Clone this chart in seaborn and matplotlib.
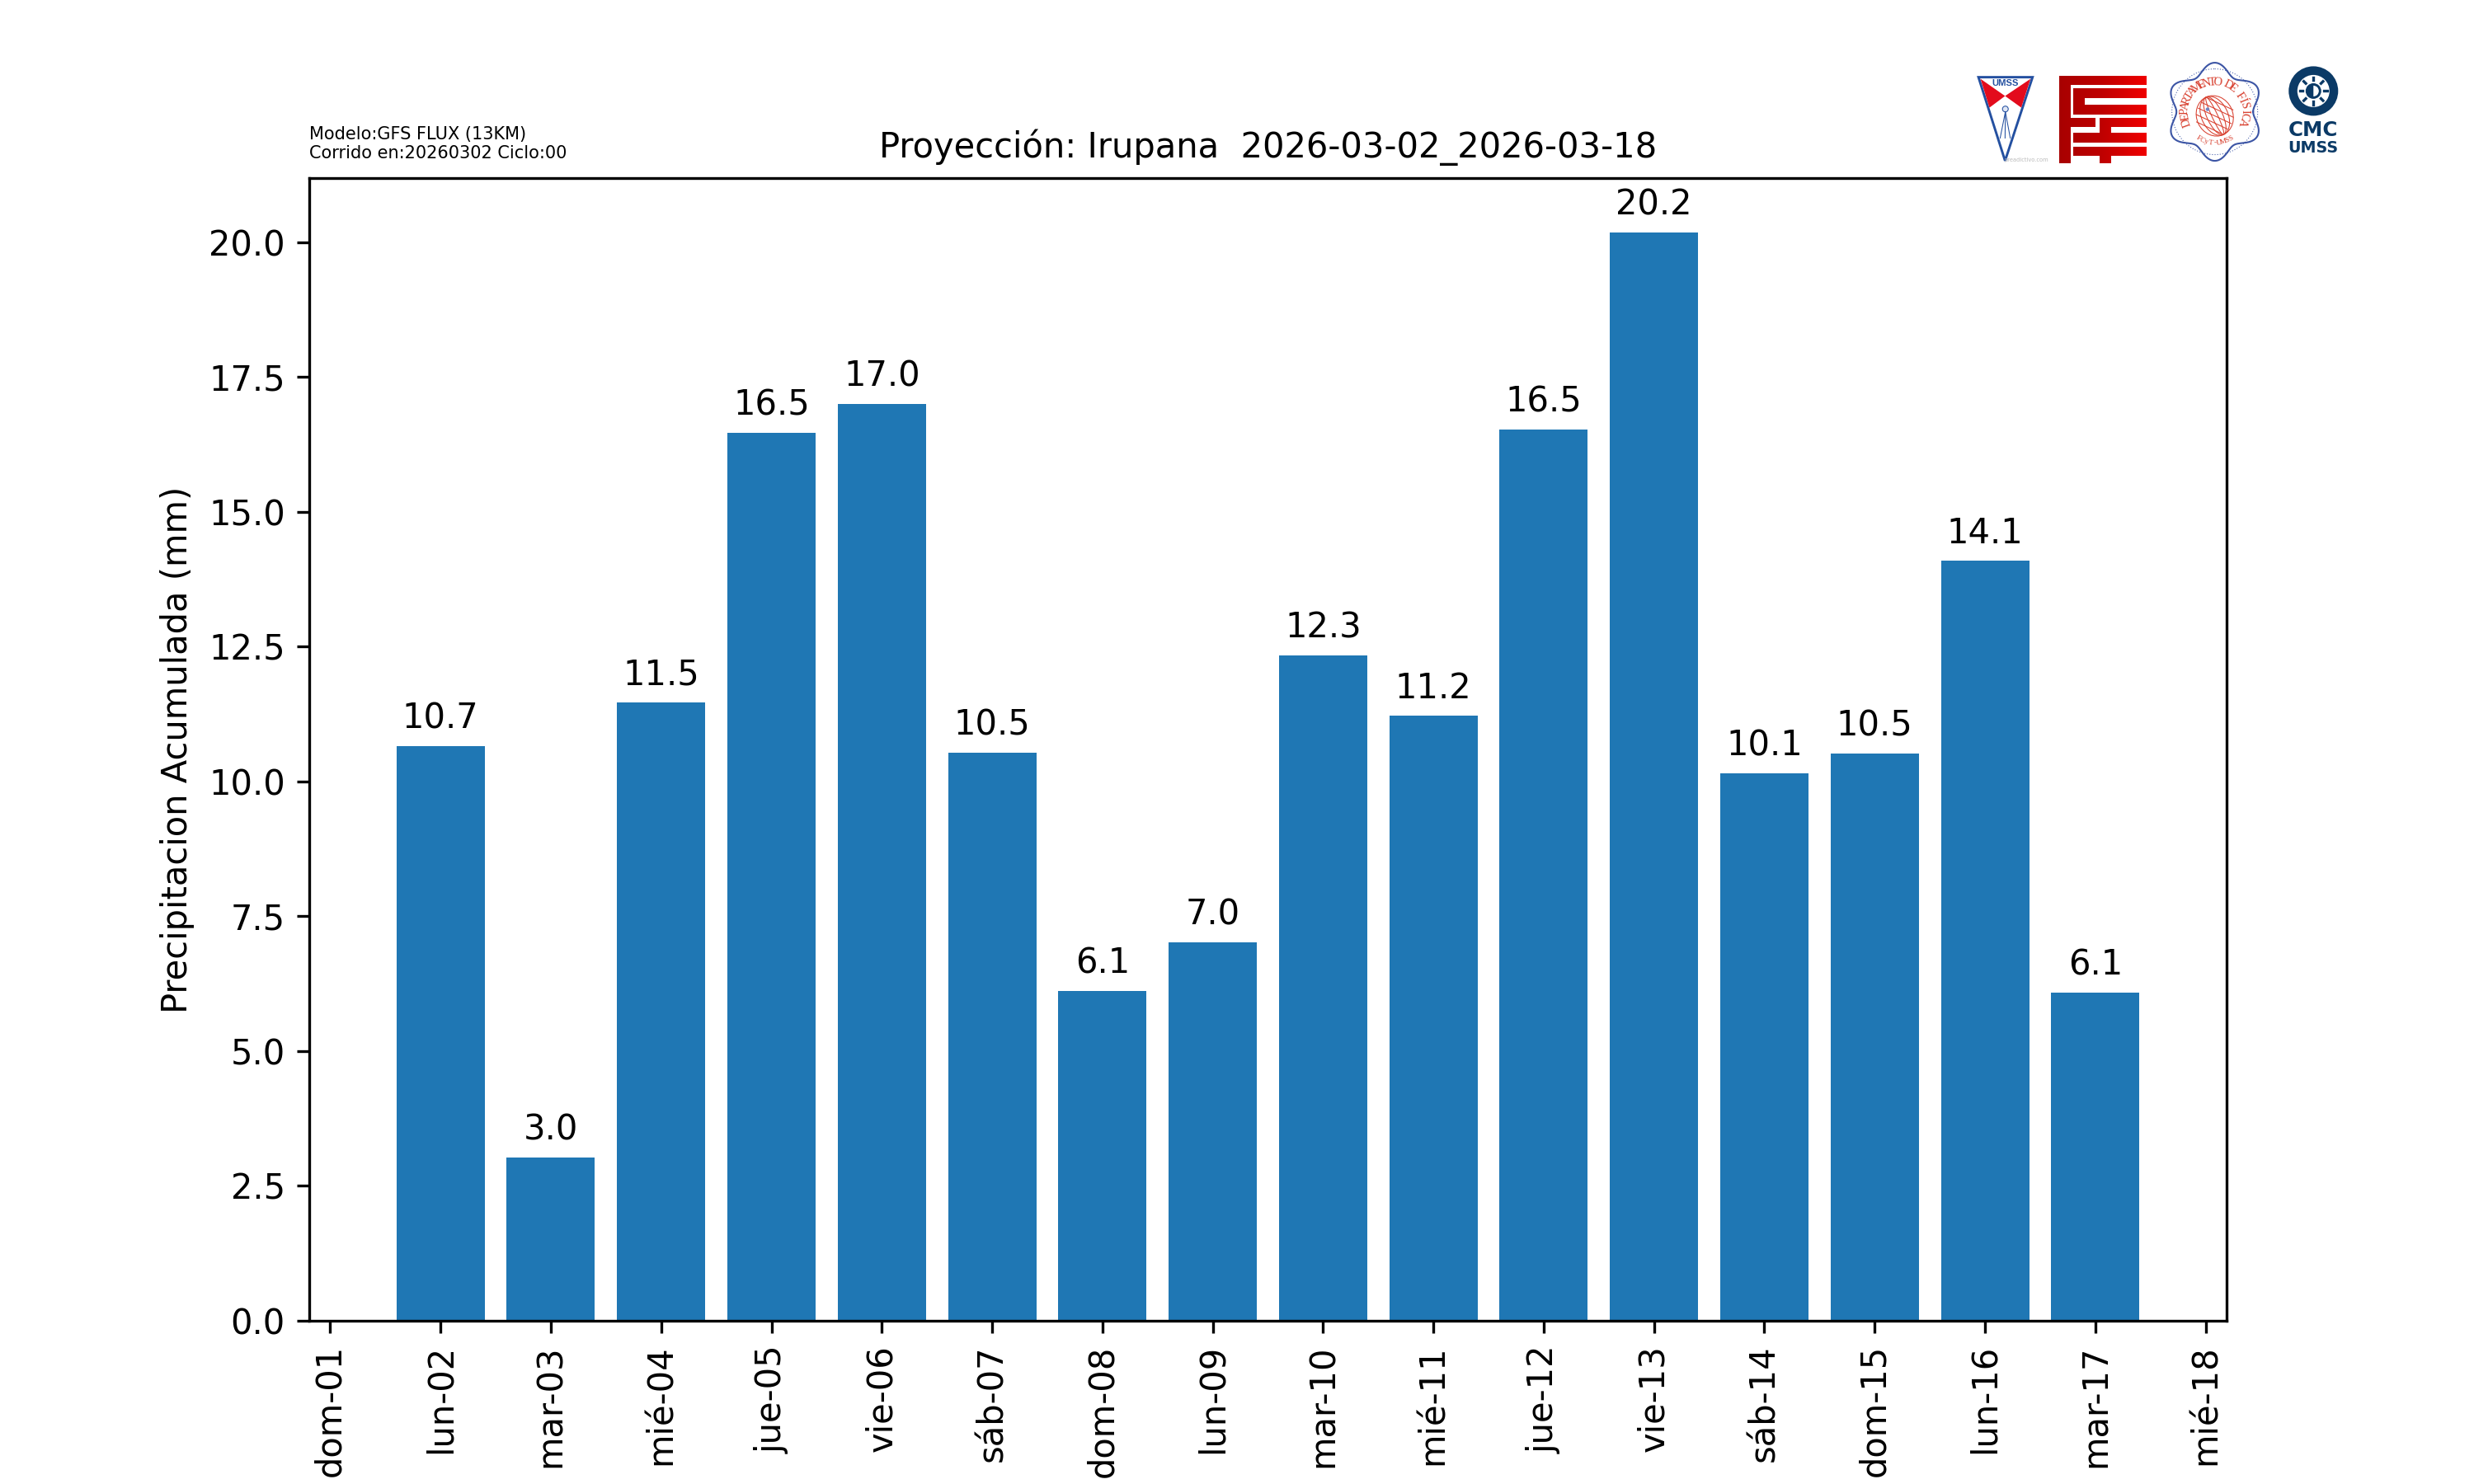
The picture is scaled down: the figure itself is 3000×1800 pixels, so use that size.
import numpy as np
import pandas as pd
import matplotlib
matplotlib.use("Agg")
import matplotlib.pyplot as plt
import seaborn as sns
from matplotlib.patches import Polygon, Circle, Ellipse, PathPatch
from matplotlib.path import Path
from matplotlib.colors import LinearSegmentedColormap

# Data
bar_days = list(range(2, 18))
precip_mm = [10.66, 3.02, 11.47, 16.46, 17.0, 10.53, 6.11, 7.02,
             12.33, 11.22, 16.53, 20.18, 10.149, 10.52, 14.09, 6.09]
tick_days = list(range(1, 19))
tick_labels = ["dom-01", "lun-02", "mar-03", "mié-04", "jue-05", "vie-06",
               "sáb-07", "dom-08", "lun-09", "mar-10", "mié-11", "jue-12",
               "vie-13", "sáb-14", "dom-15", "lun-16", "mar-17", "mié-18"]

df = pd.DataFrame({"day": bar_days, "mm": precip_mm})

fig, ax = plt.subplots(figsize=(10, 6), dpi=300)
fig.subplots_adjust(left=0.125, right=0.9, top=0.88, bottom=0.11)

sns.barplot(data=df, x="day", y="mm", native_scale=True, color="#1f77b4",
            saturation=1, width=0.8, ax=ax)
ax.bar_label(ax.containers[0], fmt="%.1f", padding=3)
ax.set_xticks(tick_days)
ax.set_xticklabels(tick_labels, rotation=90)
ax.set_xlabel("")
ax.set_ylabel("Precipitacion Acumulada (mm)")
ax.set_title("Proyección: Irupana  2026-03-02_2026-03-18", fontsize=10)

fig.text(0.125, 0.8912, "Modelo:GFS FLUX (13KM)\nCorrido en:20260302 Ciclo:00",
         fontsize=5, ha="left", va="bottom")

# Logos, drawn on an overlay in pixel coordinates
logo = fig.add_axes([0, 0, 1, 1], zorder=5)
logo.set_xlim(0, 3000)
logo.set_ylim(1800, 0)
logo.axis("off")
logo.patch.set_alpha(0)


def zx(v):
    return 2350 + v / 2.851


def zy(v):
    return 50 + v / 2.98


def zp(pts):
    return [(zx(a), zy(b)) for a, b in pts]


# UMSS shield
blue = "#2450a0"
red = "#e30b1c"
logo.add_patch(Polygon(zp([(140, 130), (327, 130), (232, 432)]), fc="white", ec=blue, lw=0.7))
logo.add_patch(Polygon(zp([(147, 136), (232, 198), (178, 240)]), fc=red, ec="none"))
logo.add_patch(Polygon(zp([(320, 136), (232, 198), (288, 240)]), fc=red, ec="none"))
logo.text(zx(232), zy(153), "UMSS", color=blue, fontsize=2.7, fontweight="bold",
          family="Liberation Sans", ha="center", va="center")
logo.add_patch(Circle((zx(233), zy(245)), 3.5, fc="#dfe6f4", ec=blue, lw=0.25))
for end in [215, 232, 250]:
    logo.plot([zx(233), zx(end)], [zy(255), zy(350)], color=blue, lw=0.25)
logo.text(zx(305), zy(430), "preadictivo.com", color="#bbbbbb", fontsize=1.6,
          ha="center", va="center")

# FCyT block logo
fcyt_rects = [(418, 124, 458, 440), (418, 124, 722, 158), (468, 170, 722, 205),
              (468, 170, 508, 265), (468, 228, 722, 265), (458, 276, 545, 310),
              (560, 276, 722, 310), (560, 276, 598, 366), (468, 330, 722, 366),
              (468, 380, 722, 415), (560, 380, 600, 440)]
verts, codes = [], []
for x0, y0, x1, y1 in fcyt_rects:
    verts += zp([(x0, y0), (x1, y0), (x1, y1), (x0, y1), (x0, y0)])
    codes += [Path.MOVETO, Path.LINETO, Path.LINETO, Path.LINETO, Path.CLOSEPOLY]
fcyt_cmap = LinearSegmentedColormap.from_list("fcyt", ["#a80000", "#c00000", "#f00000"])
grad = logo.imshow(np.linspace(0, 1, 64).reshape(1, -1), cmap=fcyt_cmap, aspect="auto",
                   extent=(zx(418), zx(722), zy(440), zy(124)))
grad.set_clip_path(PathPatch(Path(verts, codes), transform=logo.transData))
logo.set_xlim(0, 3000)
logo.set_ylim(1800, 0)

# Departamento de Fisica seal
cx, cy = zx(957), zy(255)
theta = np.linspace(0, 2 * np.pi, 400)
r_wave = 53 + 6.5 * np.cos(6 * (theta - np.pi / 2))
logo.plot(cx + r_wave * np.cos(theta), cy - r_wave * np.sin(theta), color="#3c55a5", lw=0.5)
logo.add_patch(Circle((cx, cy), 52, fc="none", ec="#3c55a5", lw=0.25, ls=(0, (1, 2))))
seal_red = "#d8402f"
gx, gy = cx, cy + 5
for w, h in [(44, 50), (32, 50), (19, 50), (7, 50)]:
    logo.add_patch(Ellipse((gx, gy), w, h, angle=-25, fc="none", ec=seal_red, lw=0.25))
for off in [-16, -8, 0, 8, 16]:
    half = np.sqrt(max(25 ** 2 - off ** 2, 1)) * 0.88
    a = np.radians(-25)
    px0 = gx + off * np.sin(a)
    py0 = gy + off * np.cos(a)
    logo.plot([px0 - half * np.cos(a), px0 + half * np.cos(a)],
              [py0 + half * np.sin(a), py0 - half * np.sin(a)], color=seal_red, lw=0.25)
logo.add_patch(Circle((zx(932), zy(246)), 2.2, fc="#6f86c4", ec="none"))

arc_text = "DEPARTAMENTO DE FÍSICA"
for ch, ang in zip(arc_text, np.linspace(200, -20, len(arc_text))):
    rad = np.radians(ang)
    logo.text(cx + 36 * np.cos(rad), cy - 36 * np.sin(rad), ch, color=seal_red, fontsize=3.5,
              family="Liberation Serif", rotation=ang - 90, rotation_mode="anchor",
              ha="center", va="center")
bottom_text = "FCyT-UMSS"
for ch, ang in zip(bottom_text, np.linspace(-122, -58, len(bottom_text))):
    rad = np.radians(ang)
    logo.text(cx + 38 * np.cos(rad), cy - 38 * np.sin(rad), ch, color=seal_red, fontsize=2.2,
              family="Liberation Serif", rotation=ang + 90, rotation_mode="anchor",
              ha="center", va="center")

# CMC wheel
navy = "#0b3a66"
wx, wy = zx(1298), zy(180)
logo.add_patch(Circle((wx, wy), 30, fc=navy, ec="none"))
logo.add_patch(Circle((wx, wy), 19.5, fc="white", ec="none"))
logo.add_patch(Circle((wx, wy), 8, fc="white", ec=navy, lw=0.7))
logo.add_patch(Polygon([(wx + 8 * np.cos(t), wy + 8 * np.sin(t))
                        for t in np.linspace(np.pi / 2, 3 * np.pi / 2, 30)], fc=navy, ec="none"))
for t in np.arange(0, 2 * np.pi, np.pi / 4):
    logo.plot([wx + 13 * np.cos(t), wx + 16.5 * np.cos(t)],
              [wy + 13 * np.sin(t), wy + 16.5 * np.sin(t)], color=navy, lw=0.8)
logo.text(wx, zy(322), "CMC", color=navy, fontsize=5.9, fontweight="bold", ha="center", va="center")
logo.text(wx, zy(387), "UMSS", color=navy, fontsize=4.6, fontweight="bold", ha="center", va="center")

fig.savefig("out.png", dpi=300)
